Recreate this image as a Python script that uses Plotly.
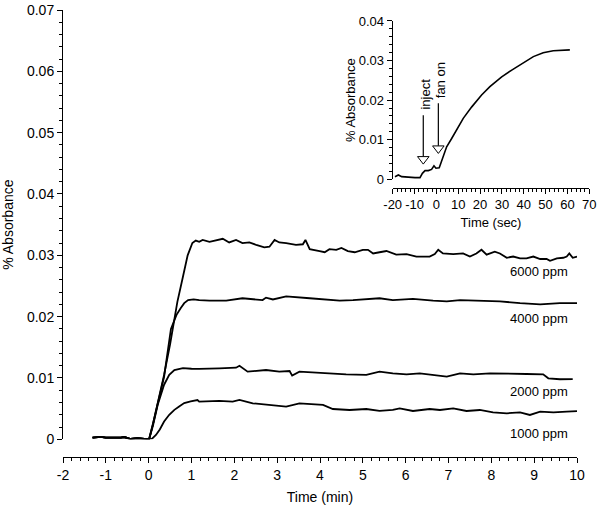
import plotly.graph_objects as go

# ---------------- data ----------------
base_t = [-1.31, -1.22, -1.12, -1.0, -0.88, -0.73, -0.65, -0.57, -0.42, -0.26, -0.12, 0.01]
base_v = [0.00026, 0.0003, 0.0004, 0.00026, 0.00026, 0.00017, 0.00028, 0.00037, 0.00005, 0.00017, 0.0001, 0.0]

t6000 = [0.1, 0.2, 0.36, 0.5, 0.67, 0.8, 0.91, 1.02, 1.1, 1.18, 1.26, 1.42, 1.65, 1.73, 1.88, 2.04,
         2.19, 2.35, 2.51, 2.70, 2.82, 2.94, 3.05, 3.21, 3.44, 3.60, 3.66, 3.76, 3.99, 4.11, 4.22,
         4.38, 4.50, 4.65, 4.81, 5.00, 5.12, 5.24, 5.39, 5.55, 5.78, 6.02, 6.25, 6.56, 6.68, 6.76,
         6.87, 7.11, 7.34, 7.50, 7.65, 7.77, 7.89, 8.08, 8.20, 8.36, 8.51, 8.67, 8.82, 8.98, 9.14,
         9.29, 9.37, 9.53, 9.68, 9.76, 9.82, 9.90, 10.0]
v6000 = [0.0025, 0.0055, 0.0105, 0.0155, 0.0224, 0.0265, 0.0300, 0.0320, 0.0324, 0.0322, 0.0325,
         0.0322, 0.0325, 0.0327, 0.0321, 0.0325, 0.0320, 0.0321, 0.0317, 0.0313, 0.0314, 0.0325,
         0.0321, 0.0320, 0.0317, 0.0318, 0.0325, 0.0310, 0.0307, 0.0305, 0.0310, 0.0309, 0.0312,
         0.0307, 0.0305, 0.0309, 0.0309, 0.0303, 0.0305, 0.0307, 0.0301, 0.0302, 0.0298, 0.0298,
         0.0302, 0.0309, 0.0303, 0.0302, 0.0303, 0.0298, 0.0303, 0.0309, 0.0301, 0.0306, 0.0303,
         0.0296, 0.0298, 0.0295, 0.0295, 0.0298, 0.0294, 0.0294, 0.0291, 0.0295, 0.0296, 0.0298,
         0.0303, 0.0296, 0.0298]

t4000 = [0.1, 0.2, 0.36, 0.52, 0.65, 0.75, 0.83, 0.92, 1.05, 1.18, 1.42, 1.81, 2.19, 2.66, 2.74,
         2.90, 3.21, 3.76, 4.46, 4.77, 5.39, 5.70, 6.17, 6.64, 6.96, 7.27, 7.73, 8.20, 8.67, 9.14,
         9.60, 10.0]
v4000 = [0.0025, 0.0055, 0.0102, 0.0180, 0.0203, 0.0214, 0.0222, 0.0227, 0.0228, 0.0227, 0.0226,
         0.0226, 0.0230, 0.0227, 0.0231, 0.0228, 0.0233, 0.0230, 0.0226, 0.0227, 0.0230, 0.0227,
         0.0229, 0.0226, 0.0225, 0.0227, 0.0226, 0.0225, 0.0222, 0.0220, 0.0222, 0.0222]

t2000 = [0.1, 0.21, 0.36, 0.48, 0.60, 0.8, 1.0, 1.18, 1.65, 2.04, 2.12, 2.31, 2.74, 3.05, 3.29,
         3.35, 3.52, 4.15, 4.61, 5.08, 5.39, 5.70, 6.02, 6.33, 6.64, 6.96, 7.27, 7.58, 7.97, 8.36,
         8.82, 9.21, 9.33, 9.60, 9.80, 9.90]
v2000 = [0.0022, 0.0056, 0.0089, 0.0105, 0.0113, 0.0116, 0.0115, 0.01147, 0.01158, 0.01168,
         0.0120, 0.01103, 0.0113, 0.01103, 0.01114, 0.01038, 0.01103, 0.01076, 0.0106, 0.01049,
         0.01103, 0.01076, 0.0106, 0.01076, 0.01049, 0.01022, 0.01076, 0.0106, 0.01076, 0.01076,
         0.01065, 0.0106, 0.00995, 0.00979, 0.00984, 0.0098]

t1000 = [0.08, 0.17, 0.26, 0.36, 0.48, 0.60, 0.72, 0.83, 0.98, 1.14, 1.18, 1.65, 1.96, 2.12, 2.43,
         2.90, 3.21, 3.52, 4.07, 4.30, 4.69, 5.08, 5.39, 5.70, 5.86, 6.17, 6.56, 6.80, 7.11, 7.42,
         7.73, 8.04, 8.36, 8.67, 8.90, 9.14, 9.45, 9.76, 10.0]
v1000 = [0.0001, 0.0007, 0.0016, 0.0029, 0.0040, 0.0048, 0.0054, 0.0059, 0.0062, 0.0064, 0.00614,
         0.00625, 0.00614, 0.00641, 0.00587, 0.0056, 0.00532, 0.00587, 0.0056, 0.00494, 0.00478,
         0.00494, 0.00462, 0.00478, 0.00505, 0.00462, 0.00494, 0.00478, 0.00505, 0.00462, 0.00478,
         0.0044, 0.00424, 0.0044, 0.00397, 0.0045, 0.0044, 0.0045, 0.0046]

series_names = ["6000 ppm", "4000 ppm", "2000 ppm", "1000 ppm"]
series_t = [t6000, t4000, t2000, t1000]
series_v = [v6000, v4000, v2000, v1000]

# inset (seconds)
inset_t = [-18.96, -17.4, -15.9, -12.9, -9.8, -7.5, -6.4, -5.2, -3.7, -2.2, -1.1, -0.2, 1.3, 2.0,
           3.2, 4.7, 7.0, 9.3, 12.3, 16.2, 20.7, 24.5, 29.9, 34.5, 39.8, 44.4, 48.9, 53.5, 61.1]
inset_v = [0.00066, 0.0011, 0.00066, 0.0005, 0.00042, 0.00042, 0.0015, 0.0022, 0.0022, 0.0025,
           0.0034, 0.0028, 0.0029, 0.0040, 0.0061, 0.0082, 0.0103, 0.0126, 0.0154, 0.0183, 0.0213,
           0.0234, 0.0259, 0.0276, 0.0294, 0.0310, 0.0320, 0.0325, 0.0327]

event_labels = ["inject", "fan on"]
event_times = [-6.0, 0.9]
event_arrow_top = [0.0162, 0.0192]
event_arrow_tip = [0.0040, 0.0067]

main_xticks = [-2, -1, 0, 1, 2, 3, 4, 5, 6, 7, 8, 9, 10]
main_xtext = ["-2", "-1", "0", "1", "2", "3", "4", "5", "6", "7", "8", "9", "10"]
main_yticks = [0, 0.01, 0.02, 0.03, 0.04, 0.05, 0.06, 0.07]
main_ytext = ["0", "0.01", "0.02", "0.03", "0.04", "0.05", "0.06", "0.07"]
inset_xticks = [-20, -10, 0, 10, 20, 30, 40, 50, 60, 70]
inset_xtext = ["-20", "-10", "0", "10", "20", "30", "40", "50", "60", "70"]
inset_yticks = [0, 0.01, 0.02, 0.03, 0.04]
inset_ytext = ["0", "0.01", "0.02", "0.03", "0.04"]

# ---------------- figure ----------------
FONT = "Liberation Sans, Arial, Helvetica, sans-serif"
LINE = dict(color="black", width=1.8)

fig = go.Figure()
for name, tt, vv in zip(series_names, series_t, series_v):
    fig.add_trace(go.Scatter(x=base_t + tt, y=base_v + vv, mode="lines", line=LINE,
                             name=name, xaxis="x", yaxis="y", hoverinfo="skip"))

fig.add_trace(go.Scatter(x=inset_t, y=inset_v, mode="lines", line=dict(color="black", width=1.6),
                         xaxis="x2", yaxis="y2", hoverinfo="skip"))

# arrow heads (open triangles)
fig.add_trace(go.Scatter(x=event_times, y=[v + 0.0011 for v in event_arrow_tip], mode="markers",
                         marker=dict(symbol="triangle-down", size=10, color="white",
                                     line=dict(color="black", width=1)),
                         xaxis="x2", yaxis="y2", hoverinfo="skip"))

shapes = []
for t, top, tip in zip(event_times, event_arrow_top, event_arrow_tip):
    shapes.append(dict(type="line", xref="x2", yref="y2", x0=t, x1=t, y0=top, y1=tip + 0.0018,
                       line=dict(color="black", width=1.2)))

annotations = []
label_y = [0.02734, 0.01974, 0.00777, 0.00098]
for name, ly in zip(series_names, label_y):
    annotations.append(dict(x=9.12, y=ly, xref="x", yref="y", text=name, showarrow=False,
                            font=dict(size=13, color="black", family=FONT)))
for lab, t, top in zip(event_labels, event_times, event_arrow_top):
    annotations.append(dict(x=t + 0.8, y=top + 0.0008, xref="x2", yref="y2", text=lab,
                            showarrow=False, textangle=-90, yanchor="bottom", xanchor="center",
                            font=dict(size=13, color="black", family=FONT)))

axis_common = dict(showline=True, linecolor="black", linewidth=1, ticks="outside",
                   tickcolor="black", showgrid=False, zeroline=False, automargin=False,
                   tickfont=dict(size=14, color="black", family=FONT))

fig.update_layout(
    width=600, height=505,
    margin=dict(l=63, r=6, t=10, b=48),
    paper_bgcolor="white", plot_bgcolor="white",
    showlegend=False,
    font=dict(family=FONT, color="black"),
    shapes=shapes, annotations=annotations,
    xaxis=dict(axis_common, domain=[0, 0.968], range=[-2, 10], anchor="free", position=0,
               ticklen=5, tickvals=main_xticks, ticktext=main_xtext,
               minor=dict(ticks="outside", ticklen=3, dtick=0.2, tickcolor="black"),
               title=dict(text="Time (min)", font=dict(size=14, family=FONT), standoff=12)),
    yaxis=dict(axis_common, domain=[0.0396, 1], range=[0, 0.07], anchor="x",
               ticklen=5, tickvals=main_yticks, ticktext=main_ytext,
               minor=dict(ticks="outside", ticklen=3, dtick=0.002, tickcolor="black"),
               title=dict(text="% Absorbance", font=dict(size=14, family=FONT), standoff=10)),
    xaxis2=dict(axis_common, domain=[0.6209, 0.9911], range=[-20, 70], anchor="free",
                position=0.6025, ticklen=5, tickvals=inset_xticks, ticktext=inset_xtext,
                tickfont=dict(size=13, color="black", family=FONT),
                minor=dict(ticks="outside", ticklen=3, dtick=2, tickcolor="black"),
                title=dict(text="Time (sec)", font=dict(size=13, family=FONT), standoff=6)),
    yaxis2=dict(axis_common, domain=[0.6213, 0.9754], range=[0, 0.04], anchor="x2",
                ticklen=5, tickvals=inset_yticks, ticktext=inset_ytext,
                tickfont=dict(size=13, color="black", family=FONT),
                minor=dict(ticks="outside", ticklen=3, dtick=0.002, tickcolor="black"),
                title=dict(text="% Absorbance", font=dict(size=13, family=FONT), standoff=0)),
)

fig.write_html("out.html", config={"displayModeBar": False, "staticPlot": True},
               post_script="document.body.style.margin='0';")
